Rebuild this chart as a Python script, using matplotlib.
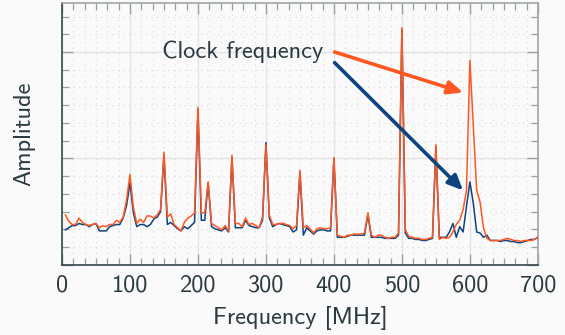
import numpy as np
import matplotlib
matplotlib.use("Agg")
import matplotlib.pyplot as plt
from matplotlib.ticker import MultipleLocator, AutoMinorLocator, NullFormatter

plt.rcParams['font.family'] = 'cmss10'
plt.rcParams['axes.unicode_minus'] = False

# frequency grid [MHz]
freq = np.arange(5, 705, 5)

# spectrum 1 (orange)
amp_orange = [
    0.47, 0.41, 0.38, 0.38, 0.44, 0.40, 0.38, 0.37, 0.38, 0.39,
    0.35, 0.37, 0.36, 0.38, 0.38, 0.42, 0.40, 0.45, 0.61, 0.85,
    0.54, 0.39, 0.43, 0.40, 0.46, 0.46, 0.44, 0.47, 0.52, 1.06,
    0.45, 0.48, 0.38, 0.35, 0.32, 0.40, 0.44, 0.46, 0.49, 1.48,
    0.49, 0.49, 0.78, 0.39, 0.37, 0.35, 0.33, 0.37, 0.32, 1.03,
    0.39, 0.39, 0.36, 0.44, 0.38, 0.39, 0.37, 0.35, 0.45, 1.13,
    0.47, 0.38, 0.38, 0.39, 0.39, 0.38, 0.37, 0.34, 0.37, 0.89,
    0.35, 0.37, 0.34, 0.30, 0.34, 0.35, 0.34, 0.34, 0.35, 1.01,
    0.28, 0.27, 0.26, 0.28, 0.28, 0.29, 0.29, 0.29, 0.30, 0.49,
    0.28, 0.26, 0.28, 0.28, 0.26, 0.25, 0.26, 0.26, 0.30, 2.23,
    0.33, 0.27, 0.26, 0.25, 0.25, 0.24, 0.24, 0.25, 0.26, 1.13,
    0.24, 0.26, 0.25, 0.26, 0.31, 0.38, 0.42, 0.52, 0.70, 1.92,
    1.30, 0.70, 0.59, 0.35, 0.25, 0.23, 0.23, 0.23, 0.23, 0.24,
    0.25, 0.24, 0.23, 0.23, 0.22, 0.23, 0.23, 0.23, 0.24, 0.26,
]

# spectrum 2 (blue)
amp_blue = [
    0.33, 0.35, 0.37, 0.37, 0.39, 0.38, 0.38, 0.36, 0.38, 0.39,
    0.32, 0.32, 0.32, 0.36, 0.37, 0.38, 0.38, 0.44, 0.56, 0.77,
    0.49, 0.36, 0.38, 0.38, 0.36, 0.38, 0.43, 0.45, 0.50, 1.03,
    0.38, 0.40, 0.37, 0.34, 0.32, 0.36, 0.34, 0.37, 0.40, 1.46,
    0.42, 0.42, 0.77, 0.36, 0.34, 0.33, 0.32, 0.35, 0.31, 1.01,
    0.35, 0.35, 0.35, 0.42, 0.37, 0.36, 0.35, 0.35, 0.42, 1.15,
    0.44, 0.36, 0.38, 0.39, 0.38, 0.37, 0.36, 0.31, 0.33, 0.87,
    0.28, 0.35, 0.32, 0.29, 0.32, 0.33, 0.33, 0.32, 0.32, 1.00,
    0.26, 0.26, 0.26, 0.27, 0.28, 0.28, 0.28, 0.28, 0.28, 0.47,
    0.26, 0.26, 0.26, 0.26, 0.25, 0.25, 0.25, 0.25, 0.28, 2.21,
    0.30, 0.25, 0.25, 0.24, 0.24, 0.23, 0.23, 0.24, 0.25, 1.11,
    0.26, 0.26, 0.26, 0.31, 0.39, 0.26, 0.36, 0.31, 0.55, 0.78,
    0.58, 0.31, 0.30, 0.26, 0.28, 0.23, 0.23, 0.23, 0.22, 0.23,
    0.23, 0.22, 0.22, 0.21, 0.21, 0.22, 0.23, 0.24, 0.24, 0.26,
]

xticks = [0, 100, 200, 300, 400, 500, 600, 700]

ORANGE = '#FF5722'
BLUE = '#0D437E'
TEXT = '#2B3A40'
BG = '#FAFAFA'
FS = 17.5

fig = plt.figure(figsize=(5.65, 3.35), dpi=100, facecolor=BG)
ax = fig.add_axes([0.1097, 0.209, 0.8423, 0.782])
ax.set_facecolor(BG)

# grids
ax.grid(True, which='major', color='#E2E4E5', lw=1.0, ls='-')
ax.grid(True, which='minor', color='#D8DBDD', lw=0.8, ls=(0, (1, 4)))
ax.set_axisbelow(True)

ax.plot(freq, amp_blue, color=BLUE, lw=1.1, zorder=3)
ax.plot(freq, amp_orange, color=ORANGE, lw=1.1, zorder=4)

ax.set_xlim(0, 700)
ax.set_ylim(0, 2.46)
ax.set_xticks(xticks)
ax.xaxis.set_minor_locator(AutoMinorLocator(6))
ax.yaxis.set_major_locator(MultipleLocator(1))
ax.yaxis.set_minor_locator(AutoMinorLocator(6))
ax.yaxis.set_major_formatter(NullFormatter())

ax.tick_params(which='both', direction='in', top=True, right=True, color='#9A9FA2')
ax.tick_params(which='major', length=8, width=1.0)
ax.tick_params(which='minor', length=5, width=0.9)
ax.tick_params(axis='x', labelsize=FS, labelcolor=TEXT, pad=7)

for side in ['left', 'bottom']:
    ax.spines[side].set_color('#37474F')
    ax.spines[side].set_linewidth(1.2)
for side in ['top', 'right']:
    ax.spines[side].set_color('#9FA5A8')
    ax.spines[side].set_linewidth(1.2)

ax.set_xlabel('Frequency [MHz]', fontsize=FS, color=TEXT, labelpad=7)
ax.set_ylabel('Amplitude', fontsize=FS, color=TEXT, labelpad=16)

# annotation
ax.text(265, 2.0, 'Clock frequency', fontsize=FS, color=TEXT, ha='center', va='center', zorder=6)
ax.annotate('', xy=(590, 1.62), xytext=(401, 2.0),
            arrowprops=dict(arrowstyle='-|>,head_length=0.9,head_width=0.4', color=ORANGE, lw=2.6,
                            shrinkA=0, shrinkB=0), zorder=6)
ax.annotate('', xy=(590, 0.70), xytext=(401, 1.90),
            arrowprops=dict(arrowstyle='-|>,head_length=0.9,head_width=0.4', color=BLUE, lw=2.6,
                            shrinkA=0, shrinkB=0), zorder=6)

fig.savefig('out.png', dpi=100, facecolor=BG)
